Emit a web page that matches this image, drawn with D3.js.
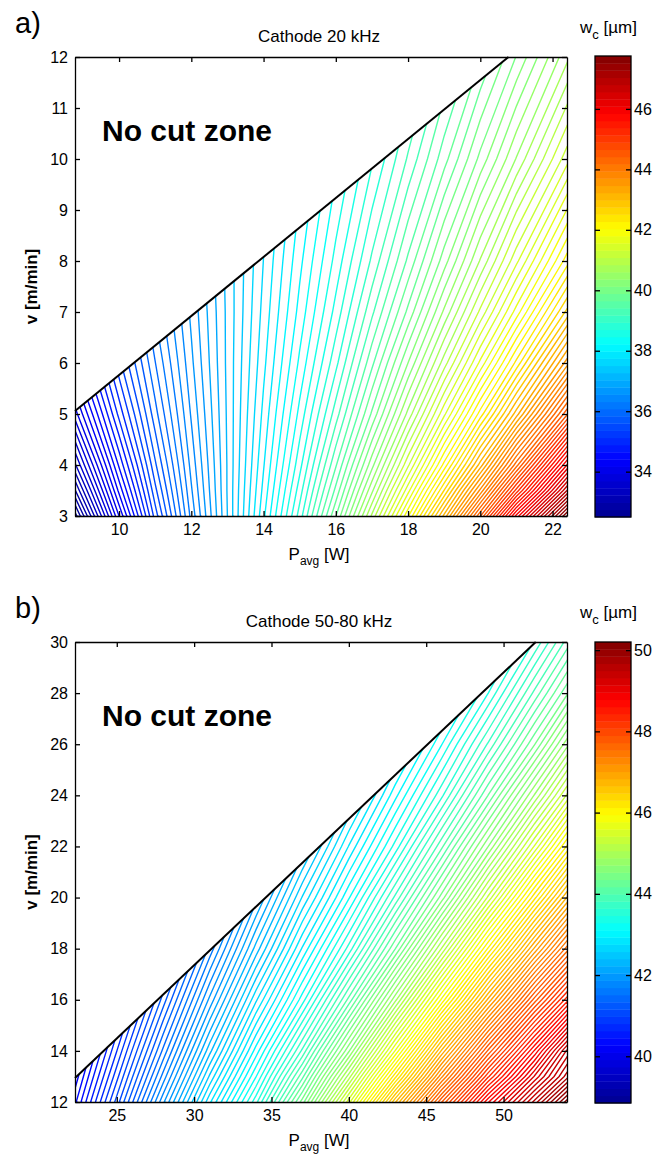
<!DOCTYPE html>
<html><head><meta charset="utf-8">
<script src="https://cdn.jsdelivr.net/npm/d3@7"></script>
<style>
body{margin:0;background:#fff}
svg{display:block}
text{font-family:Arial,"Liberation Sans",Helvetica,sans-serif;fill:#000}
</style>
</head><body>
<svg id="c" width="666" height="1155"></svg>
<script>
// ---------------- Panel a) Cathode 20 kHz ----------------
const aTitle = "Cathode 20 kHz";
const aP = [8.78, 10, 11, 12, 13, 14, 15, 16, 17, 18, 19, 20, 21, 22.4];   // P_avg grid [W]
const aV = [3, 3.5, 4, 5, 6, 7, 8, 10, 12];                                  // v grid [m/min]
const aW = [                                                                 // w_c [µm], one row per v
  [32.50, 34.09, 35.29, 36.29, 37.14, 38.00, 38.85, 39.80, 40.85, 41.95, 43.15, 44.50, 45.95, 47.69],
  [32.93, 34.38, 35.45, 36.36, 37.15, 37.94, 38.73, 39.59, 40.54, 41.54, 42.61, 43.78, 45.07, 46.80],
  [33.30, 34.62, 35.59, 36.42, 37.15, 37.89, 38.62, 39.41, 40.27, 41.18, 42.14, 43.17, 44.33, 46.04],
  [33.90, 35.02, 35.82, 36.52, 37.16, 37.81, 38.45, 39.11, 39.83, 40.61, 41.43, 42.28, 43.18, 44.61],
  [34.35, 35.32, 35.99, 36.60, 37.17, 37.74, 38.31, 38.88, 39.52, 40.19, 40.89, 41.62, 42.39, 43.56],
  [34.70, 35.53, 36.13, 36.66, 37.17, 37.69, 38.20, 38.71, 39.27, 39.84, 40.47, 41.11, 41.77, 42.77],
  [34.98, 35.70, 36.25, 36.72, 37.18, 37.65, 38.12, 38.58, 39.07, 39.58, 40.13, 40.71, 41.30, 42.16],
  [35.40, 35.96, 36.40, 36.79, 37.19, 37.58, 37.98, 38.37, 38.77, 39.19, 39.63, 40.10, 40.58, 41.28],
  [35.66, 36.15, 36.51, 36.85, 37.19, 37.54, 37.88, 38.22, 38.56, 38.91, 39.29, 39.67, 40.07, 40.66]
];
const aBoundary = [[8.78, 5.06], [20.78, 12]];     // no-cut limit line (P, v)
const aXDomain = [8.78, 22.4];
const aYDomain = [3, 12];
const aXTicks = [10, 12, 14, 16, 18, 20, 22];
const aYTicks = [3, 4, 5, 6, 7, 8, 9, 10, 11, 12];
const aCbDomain = [32.5, 47.75];
const aCbTicks = [34, 36, 38, 40, 42, 44, 46];
const aLevelCount = 120;

// ---------------- Panel b) Cathode 50-80 kHz ----------------
const bTitle = "Cathode 50-80 kHz";
const bP = [22.3, 25, 28, 31, 34, 37, 40, 43, 46, 49, 52, 54.1];
const bV = [12, 13, 14, 16, 18, 20, 22, 24, 26, 28, 30];
const bW = [
  [40.30, 41.03, 41.90, 42.74, 43.49, 44.40, 45.50, 46.70, 47.80, 48.80, 49.60, 50.20],
  [40.18, 40.88, 41.70, 42.52, 43.26, 44.08, 45.07, 46.18, 47.28, 48.29, 49.16, 49.70],
  [40.07, 40.74, 41.52, 42.31, 43.05, 43.79, 44.68, 45.71, 46.81, 47.82, 48.74, 49.42],
  [39.87, 40.49, 41.20, 41.94, 42.66, 43.31, 44.05, 44.92, 45.89, 46.90, 47.84, 48.44],
  [39.69, 40.28, 40.92, 41.61, 42.29, 42.94, 43.55, 44.27, 45.12, 46.05, 46.98, 47.59],
  [39.54, 40.09, 40.69, 41.32, 41.97, 42.60, 43.17, 43.79, 44.48, 45.30, 46.18, 46.80],
  [39.41, 39.92, 40.49, 41.07, 41.68, 42.28, 42.85, 43.38, 44.00, 44.69, 45.46, 46.05],
  [39.29, 39.78, 40.31, 40.85, 41.42, 41.99, 42.55, 43.07, 43.58, 44.19, 44.87, 45.38],
  [39.19, 39.65, 40.15, 40.66, 41.18, 41.73, 42.27, 42.79, 43.26, 43.78, 44.35, 44.83],
  [39.09, 39.53, 40.01, 40.49, 40.98, 41.49, 42.01, 42.51, 42.98, 43.43, 43.96, 44.34],
  [39.01, 39.42, 39.88, 40.34, 40.80, 41.28, 41.77, 42.26, 42.73, 43.16, 43.61, 43.97]
];
const bBoundary = [[22.3, 12.94], [52.08, 30]];
const bXDomain = [22.3, 54.1];
const bYDomain = [12, 30];
const bXTicks = [25, 30, 35, 40, 45, 50];
const bYTicks = [12, 14, 16, 18, 20, 22, 24, 26, 28, 30];
const bCbDomain = [38.85, 50.2];
const bCbTicks = [40, 42, 44, 46, 48, 50];
const bLevelCount = 135;

// ---------------- colormap (MATLAB jet, 64 colours) ----------------
const jetBase = d3.scaleLinear()
  .domain([0, 0.125, 0.375, 0.625, 0.875, 1])
  .range(["#000090", "#0000ff", "#00ffff", "#ffff00", "#ff0000", "#800000"])
  .clamp(true);
function jet64(t) {
  const k = Math.max(0, Math.min(63, Math.floor(t * 64)));
  return jetBase((k + 0.5) / 64);
}

const svg = d3.select("#c");

function drawPanel(d, L) {
  const x = d3.scaleLinear().domain(d.xDomain).range([L.x0, L.x1]);
  const y = d3.scaleLinear().domain(d.yDomain).range([L.y1, L.y0]);
  const g = svg.append("g");
  const n = d.P.length, m = d.V.length;
  const values = d.W.flat();
  const [c0, c1] = d.cbDomain;
  const levels = d3.range(d.levelCount).map(i => c0 + (i + 0.5) * (c1 - c0) / d.levelCount);
  const tcol = d3.scaleLinear().domain(d.cbDomain).range([0, 1]);
  const pIdx = d3.scaleLinear().domain(d3.range(n)).range(d.P);
  const vIdx = d3.scaleLinear().domain(d3.range(m)).range(d.V);
  const proj = d3.geoTransform({
    point(px, py) { this.stream.point(x(pIdx(px - 0.5)), y(vIdx(py - 0.5))); }
  });
  const path = d3.geoPath(proj);

  // clip: plot area below the no-cut boundary
  const b = d.boundary;
  const clipPts = [[d.xDomain[0], d.yDomain[0]], [d.xDomain[1], d.yDomain[0]],
                   [d.xDomain[1], d.yDomain[1]], [b[1][0], d.yDomain[1]], [b[0][0], b[0][1]]];
  const clipId = "clip" + L.id;
  svg.append("defs").append("clipPath").attr("id", clipId)
    .append("polygon").attr("points", clipPts.map(p => [x(p[0]), y(p[1])].join(",")).join(" "));

  const contours = d3.contours().size([n, m]).thresholds(levels)(values);
  g.append("g").attr("clip-path", `url(#${clipId})`)
    .selectAll("path").data(contours).join("path")
    .attr("d", path)
    .attr("fill", "none")
    .attr("stroke", c => jet64(tcol(c.value)))
    .attr("stroke-width", 1.4);

  // boundary line
  g.append("line")
    .attr("x1", x(b[0][0])).attr("y1", y(b[0][1]))
    .attr("x2", x(b[1][0])).attr("y2", y(b[1][1]))
    .attr("stroke", "#000").attr("stroke-width", 2);

  // axes (inward ticks on all four sides)
  const fmt = d3.format("d");
  const axB = g.append("g").attr("transform", `translate(0,${L.y1})`)
    .call(d3.axisBottom(x).tickValues(d.xTicks).tickFormat(fmt).tickSizeInner(-5).tickSizeOuter(0).tickPadding(8));
  const axT = g.append("g").attr("transform", `translate(0,${L.y0})`)
    .call(d3.axisTop(x).tickValues(d.xTicks).tickFormat("").tickSizeInner(-5).tickSizeOuter(0));
  const axL = g.append("g").attr("transform", `translate(${L.x0},0)`)
    .call(d3.axisLeft(y).tickValues(d.yTicks).tickFormat(fmt).tickSizeInner(-5).tickSizeOuter(0).tickPadding(7));
  const axR = g.append("g").attr("transform", `translate(${L.x1},0)`)
    .call(d3.axisRight(y).tickValues(d.yTicks).tickFormat("").tickSizeInner(-5).tickSizeOuter(0));
  [axB, axT, axL, axR].forEach(a => {
    a.selectAll("path.domain").attr("stroke", "#000").attr("stroke-width", 1.3);
    a.selectAll(".tick line").attr("stroke", "#000").attr("stroke-width", 1.3);
    a.selectAll("text").style("font-size", "16px").style("font-family", "Arial, 'Liberation Sans', sans-serif").attr("fill", "#000");
  });

  // title, panel letter, labels
  g.append("text").attr("x", (L.x0 + L.x1) / 2 - 2).attr("y", L.y0 - 15)
    .attr("text-anchor", "middle").style("font-size", "17px").text(d.title);
  g.append("text").attr("x", 15).attr("y", L.y0 - 24).style("font-size", "29px").text(d.letter);
  g.append("text").attr("x", 102).attr("y", L.y0 + 84)
    .style("font-size", "30px").style("font-weight", "bold").text("No cut zone");
  g.append("text").attr("transform", `translate(${37},${(L.y0 + L.y1) / 2}) rotate(-90)`)
    .attr("text-anchor", "middle").style("font-size", "17px").style("font-weight", "bold").text("v [m/min]");
  const xl = g.append("text").attr("x", (L.x0 + L.x1) / 2 - 2).attr("y", L.y1 + 44)
    .attr("text-anchor", "middle").style("font-size", "17px");
  xl.append("tspan").text("P");
  xl.append("tspan").attr("dy", 5).style("font-size", "12px").text("avg");
  xl.append("tspan").attr("dy", -5).text(" [W]");

  // colorbar
  const cy = d3.scaleLinear().domain(d.cbDomain).range([L.cb1, L.cb0]);
  const cb = g.append("g");
  const bands = d3.range(64);
  cb.selectAll("rect").data(bands).join("rect")
    .attr("x", L.cbx0).attr("width", L.cbx1 - L.cbx0)
    .attr("y", k => cy(c0 + (k + 1) * (c1 - c0) / 64))
    .attr("height", k => cy(c0 + k * (c1 - c0) / 64) - cy(c0 + (k + 1) * (c1 - c0) / 64) + 0.4)
    .attr("fill", k => jet64((k + 0.5) / 64));
  const cbR = cb.append("g").attr("transform", `translate(${L.cbx1},0)`)
    .call(d3.axisRight(cy).tickValues(d.cbTicks).tickFormat(fmt).tickSizeInner(-5).tickSizeOuter(0).tickPadding(3));
  const cbL = cb.append("g").attr("transform", `translate(${L.cbx0},0)`)
    .call(d3.axisLeft(cy).tickValues(d.cbTicks).tickFormat("").tickSizeInner(-5).tickSizeOuter(0));
  [cbR, cbL].forEach(a => {
    a.select("path.domain").remove();
    a.selectAll(".tick line").attr("stroke", "#000").attr("stroke-width", 1.3);
    a.selectAll("text").style("font-size", "16px").style("font-family", "Arial, 'Liberation Sans', sans-serif").attr("fill", "#000");
  });
  cb.append("rect").attr("x", L.cbx0).attr("y", L.cb0).attr("width", L.cbx1 - L.cbx0).attr("height", L.cb1 - L.cb0)
    .attr("fill", "none").attr("stroke", "#000").attr("stroke-width", 1.3);
  const wl = g.append("text").attr("x", 580).attr("y", L.y0 - 24).style("font-size", "17px");
  wl.append("tspan").text("w");
  wl.append("tspan").attr("dy", 6).style("font-size", "13px").text("c");
  wl.append("tspan").attr("dy", -6).text(" [\u00b5m]");
}

drawPanel({title: aTitle, letter: "a)", P: aP, V: aV, W: aW, boundary: aBoundary,
  xDomain: aXDomain, yDomain: aYDomain, xTicks: aXTicks, yTicks: aYTicks,
  cbDomain: aCbDomain, cbTicks: aCbTicks, levelCount: aLevelCount},
  {id: "a", x0: 75, x1: 567, y0: 57, y1: 516, cbx0: 595, cbx1: 631, cb0: 56, cb1: 517});

drawPanel({title: bTitle, letter: "b)", P: bP, V: bV, W: bW, boundary: bBoundary,
  xDomain: bXDomain, yDomain: bYDomain, xTicks: bXTicks, yTicks: bYTicks,
  cbDomain: bCbDomain, cbTicks: bCbTicks, levelCount: bLevelCount},
  {id: "b", x0: 75, x1: 567, y0: 642, y1: 1102, cbx0: 595, cbx1: 631, cb0: 642, cb1: 1103});
</script>
</body></html>
